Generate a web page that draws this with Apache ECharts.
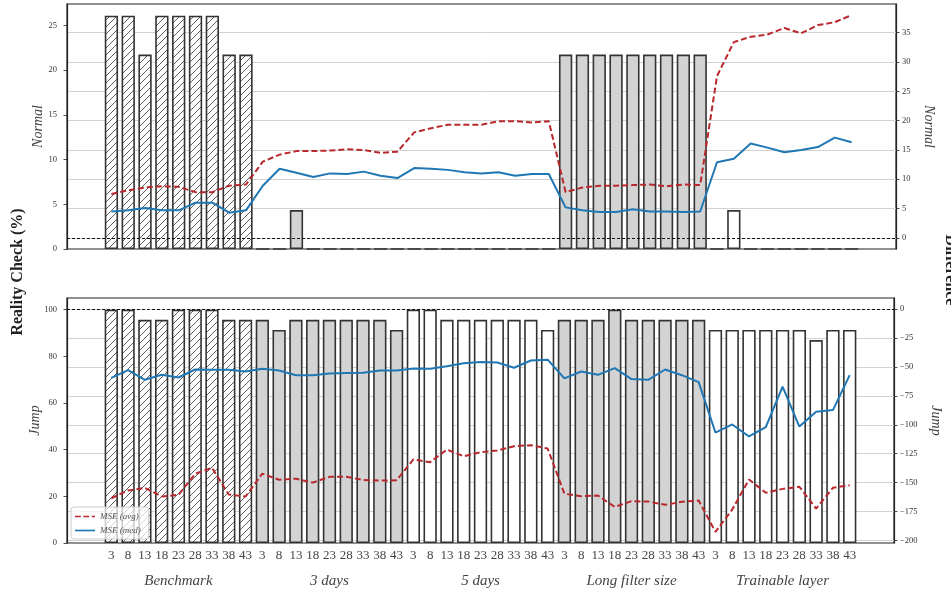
<!DOCTYPE html>
<html><head><meta charset="utf-8">
<script src="https://cdn.jsdelivr.net/npm/echarts@6/dist/echarts.min.js"></script>
<style>html,body{margin:0;padding:0;background:#fff}#c{width:951px;height:593px}</style>
</head><body><div id="c"></div>
<script>
const groups = ['Benchmark', '3 days', '5 days', 'Long filter size', 'Trainable layer'];
const tickLabels = ['3', '8', '13', '18', '23', '28', '33', '38', '43'];

// Reality check (%) bars
const normalCheck = [
  26.09, 26.09, 21.74, 26.09, 26.09, 26.09, 26.09, 21.74, 21.74,
  0, 0, 4.35, 0, 0, 0, 0, 0, 0,
  0, 0, 0, 0, 0, 0, 0, 0, 0,
  21.74, 21.74, 21.74, 21.74, 21.74, 21.74, 21.74, 21.74, 21.74,
  0, 4.35, 0, 0, 0, 0, 0, 0, 0
];
const jumpCheck = [
  100, 100, 95.65, 95.65, 100, 100, 100, 95.65, 95.65,
  95.65, 91.30, 95.65, 95.65, 95.65, 95.65, 95.65, 95.65, 91.30,
  100, 100, 95.65, 95.65, 95.65, 95.65, 95.65, 95.65, 91.30,
  95.65, 95.65, 95.65, 100, 95.65, 95.65, 95.65, 95.65, 95.65,
  91.30, 91.30, 91.30, 91.30, 91.30, 91.30, 86.96, 91.30, 91.30
];
// Difference lines
const normalAvg = [
  7.5, 8.1, 8.6, 8.8, 8.7, 7.8, 7.8, 8.9, 9.1,
  13.0, 14.2, 14.8, 14.8, 14.9, 15.1, 15.0, 14.5, 14.7,
  18.0, 18.7, 19.3, 19.3, 19.3, 19.9, 19.9, 19.7, 19.9,
  7.8, 8.6, 8.9, 8.9, 9.0, 9.1, 8.8, 9.1, 9.0,
  27.6, 33.4, 34.3, 34.7, 35.8, 34.9, 36.3, 36.8, 38.0
];
const normalMed = [
  4.5, 4.7, 5.1, 4.7, 4.7, 6.0, 6.0, 4.3, 4.7,
  8.9, 11.8, 11.1, 10.4, 11.0, 10.9, 11.3, 10.6, 10.2,
  11.9, 11.8, 11.6, 11.2, 11.0, 11.2, 10.6, 10.9, 10.9,
  5.2, 4.7, 4.4, 4.4, 4.9, 4.5, 4.5, 4.4, 4.5,
  12.9, 13.5, 16.1, 15.4, 14.6, 15.0, 15.5, 17.1, 16.3
];
const jumpAvg = [
  -163.5, -156.8, -154.5, -162.0, -160.6, -142.4, -137.2, -160.3, -162.0,
  -142.2, -147.5, -146.6, -150.0, -145.0, -145.0, -147.6, -148.2, -148.0,
  -130.0, -132.3, -121.4, -127.2, -123.7, -122.2, -118.5, -117.6, -120.5,
  -159.6, -161.7, -161.2, -171.0, -166.0, -166.4, -169.2, -166.6, -165.5,
  -192.6, -173.3, -147.3, -158.8, -155.4, -153.6, -172.4, -154.5, -152.2
];
const jumpMed = [
  -59.4, -52.7, -61.1, -56.8, -59.1, -52.2, -52.5, -52.5, -53.9,
  -51.6, -53.1, -57.1, -57.2, -55.6, -55.3, -55.0, -53.0, -53.0,
  -51.3, -51.6, -49.3, -46.7, -45.8, -46.1, -50.7, -44.4, -43.7,
  -59.9, -53.9, -56.8, -51.0, -60.5, -61.1, -52.2, -57.1, -63.1,
  -106.7, -99.7, -110.1, -102.0, -66.9, -101.5, -88.8, -87.3, -57.1
];
const normalLeftTicks = [0, 5, 10, 15, 20, 25];
const normalRightTicks = [0, 5, 10, 15, 20, 25, 30, 35];
const jumpLeftTicks = [0, 20, 40, 60, 80, 100];
const jumpRightTicks = [0, -25, -50, -75, -100, -125, -150, -175, -200];

const SERIF = '"Liberation Serif", "DejaVu Serif", serif';
const RED = '#b8282c', BLUE = '#1f77b4', GRAY = '#d3d3d3', EDGE = '#333';

function hatchCanvas() {
  const s = 7, c = document.createElement('canvas');
  c.width = s; c.height = s;
  const g = c.getContext('2d');
  g.fillStyle = '#fff'; g.fillRect(0, 0, s, s);
  g.strokeStyle = '#333'; g.lineWidth = 0.8;
  g.beginPath();
  g.moveTo(0, s); g.lineTo(s, 0);
  g.moveTo(-1, 1); g.lineTo(1, -1);
  g.moveTo(s - 1, s + 1); g.lineTo(s + 1, s - 1);
  g.stroke();
  return c;
}
const hatch = { image: hatchCanvas(), repeat: 'repeat' };
const fills = [hatch, GRAY, '#fff', GRAY, '#fff'];

const idx = normalCheck.map((_, i) => i);
const barData = arr => arr.map((v, i) => ({
  value: [i, v],
  itemStyle: { color: fills[Math.floor(i / 9)] }
}));
const lineData = arr => arr.map((v, i) => [i, v]);
const minus = v => String(v).replace('-', '\u2212');

const XMIN = -2.64, XMAX = 46.64;
const xBase = (gi) => ({
  type: 'value', gridIndex: gi, min: XMIN, max: XMAX, position: 'bottom', offset: 0,
  axisLine: { show: false, onZero: false }, axisTick: { show: false },
  splitLine: { show: false }, axisLabel: { show: false }
});
const yLabelL = { fontSize: 8.5, color: '#333', fontFamily: SERIF, margin: 10 };
const yLabelR = { fontSize: 8.5, color: '#333', fontFamily: SERIF, margin: 6 };
const yTick = { show: true, length: 3.5, lineStyle: { color: '#222', width: 0.8 } };
const yLine = { show: true, onZero: false, lineStyle: { color: '#222', width: 1.2 } };
const nameStyle = { fontStyle: 'italic', fontSize: 14, color: '#444', fontFamily: SERIF };
const zeroLine = {
  silent: true, symbol: ['none', 'none'], label: { show: false },
  lineStyle: { type: [3, 2], color: '#111', width: 1 },
  data: [{ yAxis: 0 }], animation: false
};

const option = {
  animation: false,
  backgroundColor: '#fff',
  grid: [
    { left: 67, top: 4, width: 829, height: 245, show: true, borderColor: '#222', borderWidth: 1.2, backgroundColor: 'transparent' },
    { left: 67, top: 298, width: 829, height: 245, show: true, borderColor: '#222', borderWidth: 1.2, backgroundColor: 'transparent' }
  ],
  xAxis: [
    xBase(0),
    Object.assign(xBase(1), {
      axisLabel: {
        show: true, customValues: idx, formatter: v => tickLabels[Math.round(v) % 9],
        fontSize: 13, color: '#444', fontFamily: SERIF, margin: 6
      }
    }),
    Object.assign(xBase(1), {
      axisLabel: {
        show: true, customValues: [4, 13, 22, 31, 40],
        formatter: v => groups[Math.round((v - 4) / 9)],
        fontSize: 15, fontStyle: 'italic', color: '#444', fontFamily: SERIF, margin: 31
      }
    })
  ],
  yAxis: [
    {
      type: 'value', gridIndex: 0, position: 'left', min: 0, max: 27.39,
      axisLabel: Object.assign({ customValues: normalLeftTicks }, yLabelL),
      axisTick: Object.assign({ customValues: normalLeftTicks }, yTick),
      axisLine: yLine, splitLine: { show: false },
      name: 'Normal', nameLocation: 'middle', nameGap: 22, nameMoveOverlap: false, nameTextStyle: nameStyle
    },
    {
      type: 'value', gridIndex: 0, position: 'right', min: -1.9, max: 39.9,
      axisLabel: Object.assign({ customValues: normalRightTicks }, yLabelR),
      axisTick: Object.assign({ customValues: normalRightTicks }, yTick),
      axisLine: yLine, splitLine: { show: true, lineStyle: { color: '#d2d2d2', width: 1 } },
      name: 'Normal', nameLocation: 'middle', nameRotate: -90, nameGap: 26, nameMoveOverlap: false, nameTextStyle: nameStyle
    },
    {
      type: 'value', gridIndex: 1, position: 'left', min: 0, max: 105,
      axisLabel: Object.assign({ customValues: jumpLeftTicks }, yLabelL),
      axisTick: Object.assign({ customValues: jumpLeftTicks }, yTick),
      axisLine: yLine, splitLine: { show: false },
      name: 'Jump', nameLocation: 'middle', nameGap: 25, nameMoveOverlap: false, nameTextStyle: nameStyle
    },
    {
      type: 'value', gridIndex: 1, position: 'right', min: -202.2, max: 9.63,
      axisLabel: Object.assign({ customValues: jumpRightTicks, formatter: minus }, yLabelR),
      axisTick: Object.assign({ customValues: jumpRightTicks }, yTick),
      axisLine: yLine, splitLine: { show: true, lineStyle: { color: '#d2d2d2', width: 1 } },
      name: 'Jump', nameLocation: 'middle', nameRotate: -90, nameGap: 35, nameMoveOverlap: false, nameTextStyle: nameStyle
    }
  ],
  legend: {
    data: [
      { name: 'MSE (avg)', icon: 'path://M0 0h7v2H0z M10 0h7v2h-7z M20 0h4v2h-4z' },
      { name: 'MSE (med)', icon: 'path://M0 0h24v2H0z' }
    ],
    orient: 'vertical', left: 71, top: 507,
    itemWidth: 20, itemHeight: 2, itemGap: 3,
    padding: [4, 8, 3, 4],
    backgroundColor: 'rgba(255,255,255,0.75)', borderColor: '#ccc', borderWidth: 1, borderRadius: 3,
    textStyle: { fontStyle: 'italic', fontSize: 9, color: '#555', fontFamily: SERIF, lineHeight: 11 }
  },
  series: [
    {
      type: 'bar', name: 'Normal check', xAxisIndex: 0, yAxisIndex: 0, barWidth: 13.3, z: 2,
      itemStyle: { borderColor: EDGE, borderWidth: 1.6 }, data: barData(normalCheck)
    },
    {
      type: 'bar', name: 'Jump check', xAxisIndex: 1, yAxisIndex: 2, barWidth: 13.3, z: 2,
      itemStyle: { borderColor: EDGE, borderWidth: 1.6 }, data: barData(jumpCheck)
    },
    {
      type: 'line', name: 'MSE (avg)', xAxisIndex: 0, yAxisIndex: 1, symbol: 'none', z: 5,
      lineStyle: { color: RED, width: 2, type: [6, 3] }, itemStyle: { color: RED },
      data: lineData(normalAvg), markLine: zeroLine
    },
    {
      type: 'line', name: 'MSE (med)', xAxisIndex: 0, yAxisIndex: 1, symbol: 'none', z: 5,
      lineStyle: { color: BLUE, width: 2 }, itemStyle: { color: BLUE },
      data: lineData(normalMed)
    },
    {
      type: 'line', name: 'MSE (avg)', xAxisIndex: 1, yAxisIndex: 3, symbol: 'none', z: 5,
      lineStyle: { color: RED, width: 2, type: [6, 3] }, itemStyle: { color: RED },
      data: lineData(jumpAvg), markLine: zeroLine
    },
    {
      type: 'line', name: 'MSE (med)', xAxisIndex: 1, yAxisIndex: 3, symbol: 'none', z: 5,
      lineStyle: { color: BLUE, width: 2 }, itemStyle: { color: BLUE },
      data: lineData(jumpMed)
    }
  ],
  graphic: [
    {
      type: 'text', x: 18, y: 272, rotation: Math.PI / 2,
      style: { text: 'Reality Check (%)', font: 'bold 16px ' + SERIF, fill: '#222', align: 'center', verticalAlign: 'middle' }
    },
    {
      type: 'text', x: 950, y: 270, rotation: -Math.PI / 2,
      style: { text: 'Difference', font: 'bold 16px ' + SERIF, fill: '#222', align: 'center', verticalAlign: 'middle' }
    }
  ]
};

const chart = echarts.init(document.getElementById('c'), null, { renderer: 'canvas' });
chart.setOption(option);
</script>
</body></html>
